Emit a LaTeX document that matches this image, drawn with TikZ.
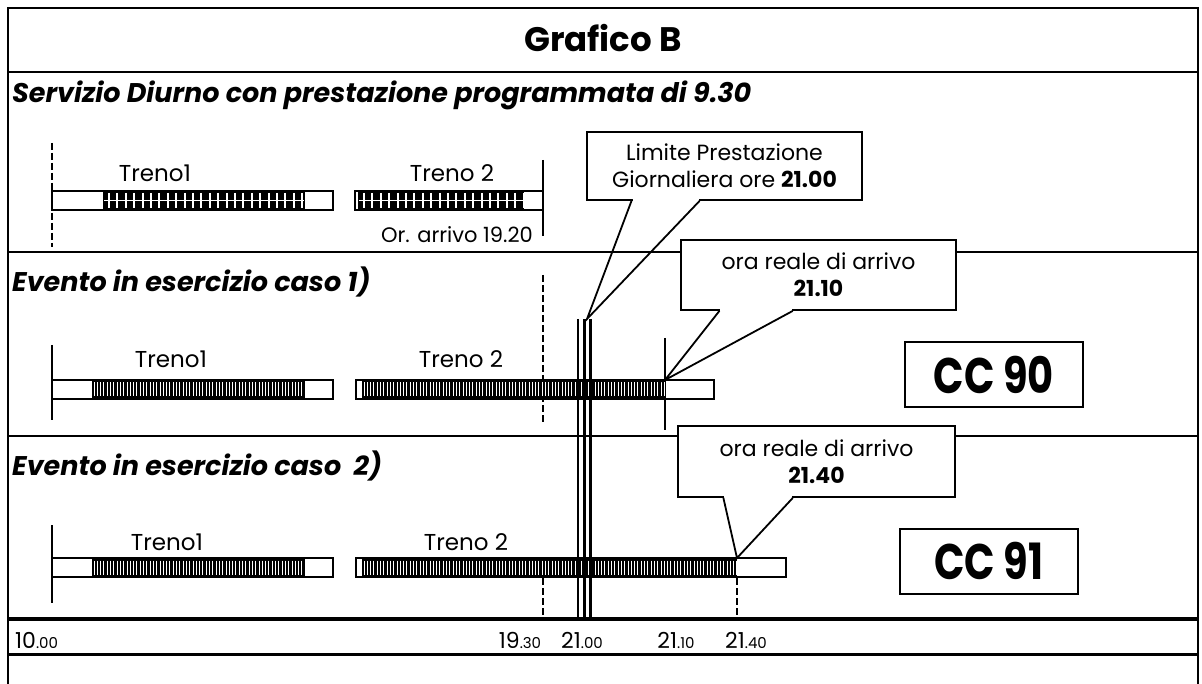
\documentclass[tikz,border=0pt]{standalone}
\usepackage{fontspec}
\setmainfont{Poppins}
\usetikzlibrary{calc}

\tikzset{
  frameline/.style={line width=2pt},
  barbox/.style={draw, line width=2pt},
  tickline/.style={line width=1.2pt},
  dashtick/.style={line width=1.4pt, dash pattern=on 7pt off 3pt},
  callbox/.style={draw, fill=white, line width=1.8pt, align=center, inner sep=0pt,
    font=\fontsize{22}{27}\selectfont},
  callline/.style={line width=1.8pt},
  ccbox/.style={draw, fill=white, line width=2pt, minimum width=178pt, minimum height=65pt,
    font=\bfseries\fontsize{50}{50}\selectfont},
  heading/.style={anchor=base west, inner sep=0pt, font=\bfseries\itshape\fontsize{27}{30}\selectfont},
  trainlabel/.style={anchor=base, inner sep=0pt, font=\fontsize{23}{27}\selectfont},
  timelabel/.style={anchor=base, inner sep=0pt, font=\fontsize{22}{26}\selectfont},
}

% striped filling of a train bar: from x #1 to x #2, top at #3
\newcommand{\stripebar}[3]{%
  \fill (#1,#3) rectangle (#2,#3+19);
  \pgfmathsetmacro{\hatchA}{#1+2}\pgfmathsetmacro{\hatchB}{#1+5.3}
  \foreach \hx in {\hatchA,\hatchB,...,#2}
    \draw[white, line width=0.9pt] (\hx,#3+2.5) -- (\hx,#3+16.5);
}
% chequered filling (planned service)
\newcommand{\gridbar}[3]{%
  \fill (#1,#3) rectangle (#2,#3+19);
  \draw[white, line width=1.6pt] (#1+1,#3+9.5) -- (#2-1,#3+9.5);
  \pgfmathsetmacro{\hatchA}{#1+6}\pgfmathsetmacro{\hatchB}{#1+14.4}
  \foreach \hx in {\hatchA,\hatchB,...,#2}
    \draw[white, line width=2pt] (\hx,#3+2) -- (\hx,#3+17);
}
% pointer of a callout box #1, base between fractions #2 and #3, tip #4
\newcommand{\callptr}[4]{%
  \coordinate (#1-l) at ($(#1.south west)!#2!(#1.south east)$);
  \coordinate (#1-r) at ($(#1.south west)!#3!(#1.south east)$);
  \draw[white, line width=3pt] ([xshift=1pt]#1-l) -- ([xshift=-1pt]#1-r);
  \draw[callline] (#1-l) -- (#4) -- (#1-r);
}

\begin{document}
\begin{tikzpicture}[x=1pt, y=-1pt]
\useasboundingbox (0,0) rectangle (1202,684);

% frame and bands
\draw[frameline] (8,684) -- (8,8) -- (1198,8) -- (1198,684);
\draw[frameline] (8,72) -- (1198,72);
\draw[frameline] (8,252) -- (1198,252);
\draw[frameline] (8,436) -- (1198,436);
\draw[line width=4pt] (8,619) -- (1198,619);
\draw[line width=3pt] (8,654) -- (1198,654);

% row 1: planned service
\draw[dashtick] (52,143) -- (52,247);
\draw[tickline] (543,160) -- (543,236);
\gridbar{103}{305}{191}
\draw[barbox] (52,191) rectangle (333,210);
\gridbar{358}{524}{191}
\draw[barbox] (355,191) rectangle (543,210);

% row 2: case 1
\draw[tickline] (52,345) -- (52,420);
\draw[dashtick] (543,275) -- (543,423);
\draw[tickline] (665,338) -- (665,430);
\stripebar{92}{305}{380}
\draw[barbox] (52,380) rectangle (333,399);
\stripebar{362}{665}{380}
\draw[barbox] (356,380) rectangle (714,399);

% row 3: case 2
\draw[tickline] (52,525) -- (52,603);
\draw[dashtick] (543,578) -- (543,617);
\draw[dashtick] (737,578) -- (737,617);
\stripebar{92}{305}{558}
\draw[barbox] (52,558) rectangle (333,577);
\stripebar{362}{737}{558}
\draw[barbox] (356,558) rectangle (786,577);

% limit 21.00
\draw[line width=1.5pt] (578,319) -- (578,618);
\draw[line width=3pt] (584.5,319) -- (584.5,618);
\draw[line width=2.5pt] (590.5,319) -- (590.5,618);

% callouts
\node[callbox, minimum width=275pt, minimum height=68pt] (limit) at (724.5,166)
  {Limite Prestazione\\Giornaliera ore \textbf{21.00}};
\coordinate (limittip) at (587,319);
\callptr{limit}{0.164}{0.41}{limittip}

\node[callbox, minimum width=275pt, minimum height=70pt] (arr1) at (818.5,275)
  {ora reale di arrivo\\\textbf{21.10}};
\coordinate (arr1tip) at (665,380);
\callptr{arr1}{0.142}{0.407}{arr1tip}

\node[callbox, minimum width=277pt, minimum height=71pt] (arr2) at (816.5,461.5)
  {ora reale di arrivo\\\textbf{21.40}};
\coordinate (arr2tip) at (737,558);
\callptr{arr2}{0.166}{0.415}{arr2tip}

\node[ccbox] (cc90) at (994,374.5) {\scalebox{0.8}[1]{CC 90}};
\node[ccbox] (cc91) at (989,561) {\scalebox{0.8}[1]{CC 91}};

% texts
\node[font=\bfseries\fontsize{34}{40}\selectfont] (title) at (603,38) {Grafico B};
\node[heading] (head1) at (12,103) {Servizio Diurno con prestazione programmata di 9.30};
\node[heading] (head2) at (12,292) {Evento in esercizio caso 1)};
\node[heading] (head3) at (12,475) {Evento in esercizio caso \ 2)};

\node[trainlabel] (t1a) at (155,182) {Treno1};
\node[trainlabel] (t2a) at (452,182) {Treno 2};
\node[trainlabel, anchor=base east, font=\fontsize{21}{25}\selectfont] (arrplan) at (533,243) {Or. arrivo 19.20};
\node[trainlabel] (t1b) at (171,368) {Treno1};
\node[trainlabel] (t2b) at (461,368) {Treno 2};
\node[trainlabel] (t1c) at (167,550) {Treno1};
\node[trainlabel] (t2c) at (466,550) {Treno 2};

\node[timelabel, anchor=base west] (h1000) at (15,648) {10{\fontsize{15}{15}\selectfont.00}};
\node[timelabel] (h1930) at (520,648) {19{\fontsize{15}{15}\selectfont.30}};
\node[timelabel] (h2100) at (582,648) {21{\fontsize{15}{15}\selectfont.00}};
\node[timelabel] (h2110) at (676,648) {21{\fontsize{15}{15}\selectfont.10}};
\node[timelabel] (h2140) at (746,648) {21{\fontsize{15}{15}\selectfont.40}};
\end{tikzpicture}
\end{document}
